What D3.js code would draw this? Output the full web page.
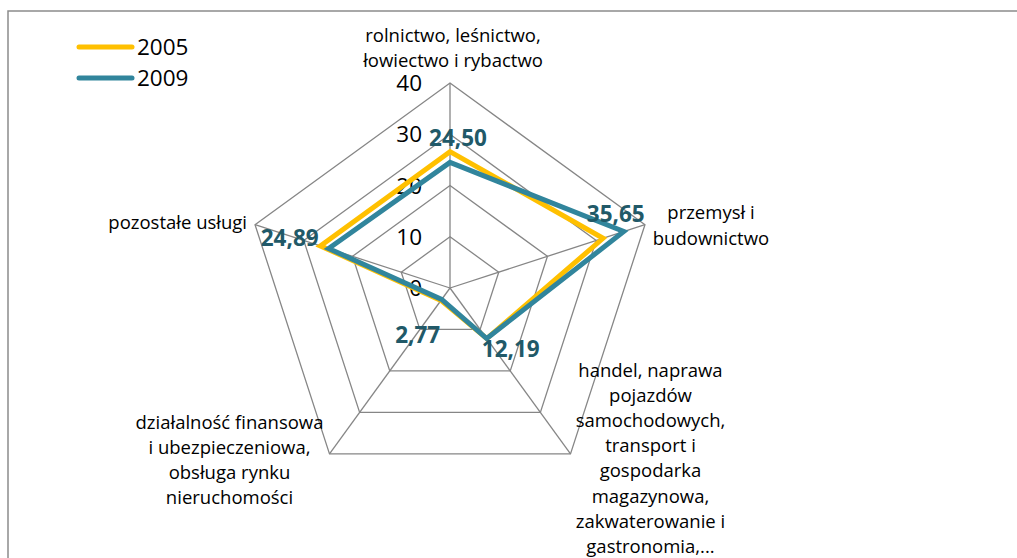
<!DOCTYPE html>
<html>
<head>
<meta charset="utf-8">
<script src="https://cdn.jsdelivr.net/npm/d3@7"></script>
<style>
  html, body { margin: 0; padding: 0; background: #fff; }
  svg { display: block; font-family: "Open Sans", Lato, sans-serif; }
</style>
</head>
<body>
<svg id="chart" width="1017" height="558"></svg>
<script>
// Data
var categories = [
  ["rolnictwo, leśnictwo,", "łowiectwo i rybactwo"],
  ["przemysł i", "budownictwo"],
  ["handel, naprawa", "pojazdów", "samochodowych,", "transport i", "gospodarka", "magazynowa,", "zakwaterowanie i", "gastronomia,..."],
  ["działalność finansowa", "i ubezpieczeniowa,", "obsługa rynku", "nieruchomości"],
  ["pozostałe usługi"]
];
var seriesNames = ["2005", "2009"];
var values2005 = [26.6, 31.4, 12.2, 3.0, 26.6];
var values2009 = [24.50, 35.65, 12.19, 2.77, 24.89];
var labels2009 = ["24,50", "35,65", "12,19", "2,77", "24,89"];
var ticks = [0, 10, 20, 30, 40];
var colors = ["#FFC000", "#31859C"];

var svg = d3.select("#chart");
var cx = 450, cy = 288;

var r = d3.scaleLinear().domain([0, 40]).range([0, 205]);
var angle = d3.scaleLinear().domain([0, categories.length]).range([-Math.PI / 2, 1.5 * Math.PI]);

function pt(i, v) {
  var a = angle(i);
  return [cx + r(v) * Math.cos(a), cy + r(v) * Math.sin(a)];
}

// Frame (chart area is cropped at the right and bottom)
svg.append("path")
  .attr("d", "M8,558 L8,11 L1017,11")
  .attr("fill", "none")
  .attr("stroke", "#8c8c8c")
  .attr("stroke-width", 1.5);

// Grid
var grid = svg.append("g");
ticks.slice(1).forEach(function(t) {
  grid.append("polygon")
    .attr("points", d3.range(categories.length).map(function(i) { return pt(i, t).join(","); }).join(" "))
    .attr("fill", "none")
    .attr("stroke", "#868686")
    .attr("stroke-width", 1.3);
});
d3.range(categories.length).forEach(function(i) {
  var p = pt(i, 40);
  grid.append("line")
    .attr("x1", cx).attr("y1", cy)
    .attr("x2", p[0]).attr("y2", p[1])
    .attr("stroke", "#868686")
    .attr("stroke-width", 1.3);
});

// Tick labels along the top axis
svg.append("g").selectAll("text")
  .data(ticks)
  .enter()
  .append("text")
    .attr("x", cx - 28)
    .attr("y", function(d) { return cy - r(d); })
    .attr("dy", "0.36em")
    .attr("text-anchor", "end")
    .attr("font-size", 22.5)
    .attr("fill", "#000")
    .text(function(d) { return d; });

// Series
var line = d3.line().curve(d3.curveLinearClosed);
[values2005, values2009].forEach(function(vals, s) {
  svg.append("path")
    .attr("d", line(vals.map(function(v, i) { return pt(i, v); })))
    .attr("fill", "none")
    .attr("stroke", colors[s])
    .attr("stroke-width", 5)
    .attr("stroke-linejoin", "miter");
});

// Data labels for 2009
var labelOffsets = [[8, -25], [-8, -18], [24, 10], [-24, 35], [-39, -11]];
svg.append("g").selectAll("text")
  .data(values2009)
  .enter()
  .append("text")
    .attr("x", function(d, i) { return pt(i, d)[0] + labelOffsets[i][0]; })
    .attr("y", function(d, i) { return pt(i, d)[1] + labelOffsets[i][1]; })
    .attr("dy", "0.36em")
    .attr("text-anchor", "middle")
    .attr("font-size", 22.5)
    .attr("font-weight", "bold")
    .attr("fill", "#215968")
    .text(function(d, i) { return labels2009[i]; });

// Category labels, placed relative to the outer vertex
var catOffsets = [[3, -48], [66, -12], [80, -84], [-100, -32], [-8, -2]];
var catAnchor = ["middle", "middle", "middle", "middle", "end"];
var lineH = 25.2;
categories.forEach(function(lines, i) {
  var p = pt(i, 40);
  var t = svg.append("text")
    .attr("text-anchor", catAnchor[i])
    .attr("font-size", 18.5)
    .attr("fill", "#000");
  lines.forEach(function(l, k) {
    t.append("tspan")
      .attr("x", p[0] + catOffsets[i][0])
      .attr("y", p[1] + catOffsets[i][1] + k * lineH)
      .attr("dy", "0.36em")
      .text(l);
  });
});

// Legend
var legend = svg.append("g");
seriesNames.forEach(function(name, s) {
  var y = 47 + s * 31;
  legend.append("line")
    .attr("x1", 79).attr("x2", 132)
    .attr("y1", y).attr("y2", y)
    .attr("stroke", colors[s])
    .attr("stroke-width", 5)
    .attr("stroke-linecap", "round");
  legend.append("text")
    .attr("x", 137).attr("y", y)
    .attr("dy", "0.36em")
    .attr("font-size", 22.5)
    .text(name);
});
</script>
</body>
</html>
